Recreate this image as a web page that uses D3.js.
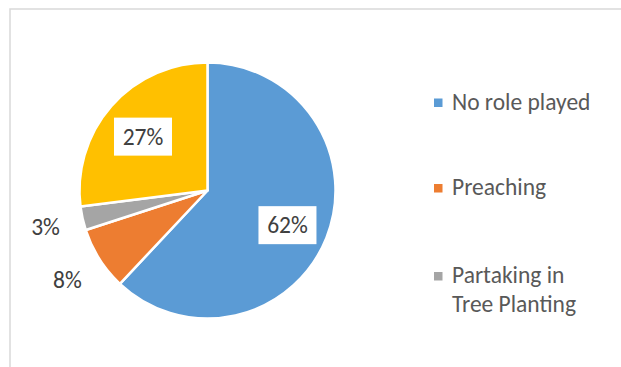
<!DOCTYPE html>
<html>
<head>
<meta charset="utf-8">
<script src="https://cdn.jsdelivr.net/npm/d3@7"></script>
<style>
  html, body { margin: 0; padding: 0; background: #fff; }
  svg { display: block; }
  text { font-family: Carlito, Lato, "Liberation Sans", sans-serif; }
</style>
</head>
<body>
<svg id="chart" width="621" height="367"></svg>
<script>
// Roles played, share of respondents (%)
const categories = ["No role played", "Preaching", "Partaking in Tree Planting", "Other roles"];
const values = [62, 8, 3, 27];
const colors = ["#5B9BD5", "#ED7D31", "#A5A5A5", "#FFC000"];
const legendLines = [["No role played"], ["Preaching"], ["Partaking in", "Tree Planting"]];
const labelInside = [true, false, false, true];

const W = 621, H = 367;
const cx = 207.5, cy = 190.5, R = 128;

const svg = d3.select("#chart");

// chart-area frame (left and top edges visible)
svg.append("path")
  .attr("d", `M10,${H} L10,9 L${W},9`)
  .attr("fill", "none")
  .attr("stroke", "#d9d9d9")
  .attr("stroke-width", 1.5);

const pie = d3.pie().sort(null).value(d => d.value);
const data = categories.map((c, i) => ({ name: c, value: values[i], color: colors[i], inside: labelInside[i] }));
const arcs = pie(data);

const arc = d3.arc().innerRadius(0).outerRadius(R);
const g = svg.append("g").attr("transform", `translate(${cx},${cy})`);

g.selectAll("path.slice")
  .data(arcs)
  .join("path")
  .attr("class", "slice")
  .attr("d", arc)
  .attr("fill", d => d.data.color)
  .attr("stroke", "#fff")
  .attr("stroke-width", 2.5)
  .attr("stroke-linejoin", "round");

// data labels
const inArc = d3.arc().innerRadius(86).outerRadius(86);
const outArc = d3.arc().innerRadius(166).outerRadius(166);
const fs = 23.5;

arcs.forEach(d => {
  const [x, y] = (d.data.inside ? inArc : outArc).centroid(d);
  const lg = g.append("g").attr("transform", `translate(${x},${y + (d.data.inside ? 3 : 0)})`);
  const label = d.data.value + "%";
  if (d.data.inside) {
    lg.append("rect")
      .attr("x", -29).attr("y", -19)
      .attr("width", 58).attr("height", 38)
      .attr("fill", "#fff");
  }
  lg.append("text")
    .attr("text-anchor", "middle")
    .attr("y", fs * 0.35)
    .attr("font-size", fs)
    .attr("fill", "#404040")
    .text(label);
});

// legend
const legendTops = [109.5, 195, 283];
const lineH = 29;
const legend = svg.append("g");
legendLines.forEach((lines, i) => {
  const base = legendTops[i];
  legend.append("rect")
    .attr("x", 434).attr("y", base - 11)
    .attr("width", 8.5).attr("height", 8.5)
    .attr("fill", colors[i]);
  const t = legend.append("text")
    .attr("x", 452).attr("y", base)
    .attr("font-size", fs)
    .attr("fill", "#595959");
  lines.forEach((ln, j) => {
    t.append("tspan").attr("x", 452).attr("y", base + j * lineH).text(ln);
  });
});
</script>
</body>
</html>
